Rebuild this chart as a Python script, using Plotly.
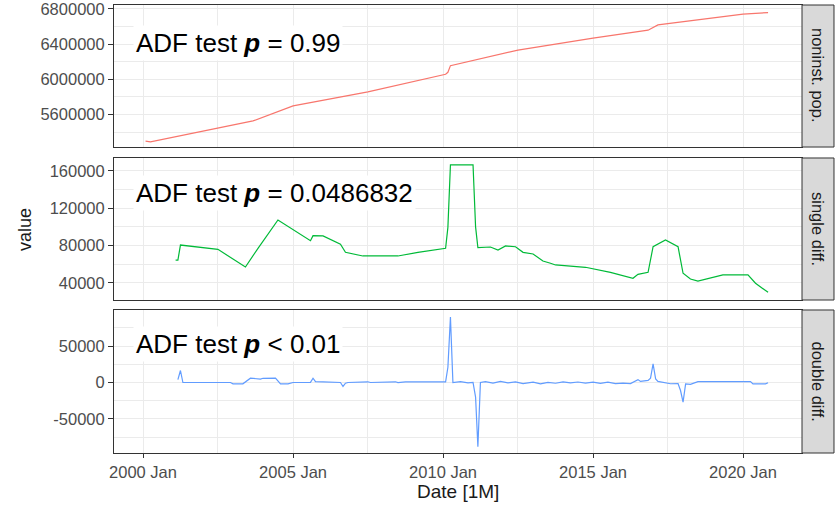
import plotly.graph_objects as go

# Non-institutional population (monthly), read at its breakpoints
pop_dates = ["2000-02", "2000-04", "2003-09", "2005-01", "2007-07", "2010-01", "2010-02",
             "2010-03", "2010-04", "2012-07", "2015-01", "2016-11", "2017-03", "2020-01", "2020-11"]
pop_vals = [5298000, 5290000, 5528000, 5699000, 5858000, 6050000, 6058000,
            6080000, 6156000, 6332000, 6468000, 6559000, 6619000, 6741000, 6759000]

# Single (seasonal) difference
d1_dates = ["2001-02", "2001-03", "2001-04", "2001-09", "2002-07", "2003-06", "2003-11", "2004-07",
            "2005-01", "2005-08", "2005-09", "2006-01", "2006-08", "2006-10", "2007-05", "2008-07",
            "2009-03", "2010-02", "2010-03", "2010-04", "2011-01", "2011-02", "2011-03", "2011-08",
            "2011-11", "2012-02", "2012-06", "2012-09", "2013-01", "2013-05", "2013-08", "2013-10",
            "2014-10", "2015-08", "2016-05", "2016-07", "2016-11", "2017-01", "2017-06", "2017-11",
            "2018-01", "2018-04", "2018-07", "2019-05", "2020-03", "2020-06", "2020-11"]
d1_vals = [64500, 64500, 80600, 78800, 76000, 57100, 77100, 107400,
           96700, 85200, 90600, 90300, 81400, 72800, 68900, 68900,
           72800, 77100, 99500, 166400, 166400, 100000, 77800, 78500,
           75300, 79600, 78800, 72800, 71000, 63500, 61100, 59300,
           56800, 51400, 45000, 49300, 51400, 78800, 86000, 78800,
           50400, 44300, 42100, 48600, 48600, 39700, 30000]

# Double difference
d2_dates = ["2001-03", "2001-04", "2001-05", "2002-12", "2003-01", "2003-05", "2003-08", "2003-12",
            "2004-01", "2004-06", "2004-08", "2004-11", "2005-01", "2005-08", "2005-09", "2005-10",
            "2006-01", "2006-08", "2006-09", "2006-10", "2006-11", "2007-07", "2007-08", "2008-06",
            "2008-07", "2008-10", "2010-02", "2010-03", "2010-04", "2010-05", "2010-08", "2010-11",
            "2011-01", "2011-02", "2011-03", "2011-04", "2011-06", "2011-09", "2011-12", "2012-03",
            "2012-06", "2012-09", "2013-01", "2013-04", "2013-07", "2013-10", "2014-01", "2014-04",
            "2014-07", "2014-10", "2015-01", "2015-04", "2015-07", "2015-10", "2016-01", "2016-04",
            "2016-07", "2016-08", "2016-11", "2016-12", "2017-01", "2017-02", "2017-03", "2017-06",
            "2017-08", "2017-11", "2017-12", "2018-01", "2018-02", "2018-04", "2018-07", "2020-04",
            "2020-05", "2020-10", "2020-11"]
d2_vals = [4000, 16500, 0, 0, -1800, -1800, 5900, 4800,
           5800, 5900, -1800, -1800, 0, 200, 5900, 1200,
           1000, 0, -5400, -1000, 0, 1000, 0, 1000,
           0, 800, 800, 21000, 90000, 0, 1200, -600,
           0, -20000, -88000, 0, 1200, -800, 1500, -500,
           800, -1500, 600, -1800, 300, -1000, 900, -600,
           700, -900, 500, -1200, 400, -1500, -800, -1500,
           4000, 1500, 3000, 6000, 25500, 5000, 1500, 0,
           -1700, -1500, -11000, -27000, -2000, -2500, 1300, 1300,
           -1800, -1800, -400]

panel_labels = ["noninst. pop.", "single diff.", "double diff."]
adf_texts = ["ADF test <b><i>p</i></b> = 0.99",
             "ADF test <b><i>p</i></b> = 0.0486832",
             "ADF test <b><i>p</i></b> &lt; 0.01"]

x_tick_vals = ["2000-01-01", "2005-01-01", "2010-01-01", "2015-01-01", "2020-01-01"]
x_tick_text = ["2000 Jan", "2005 Jan", "2010 Jan", "2015 Jan", "2020 Jan"]
x_minor_vals = ["2002-07-01", "2007-07-01", "2012-07-01", "2017-07-01"]

y_ticks = [[5600000, 6000000, 6400000, 6800000],
           [40000, 80000, 120000, 160000],
           [-50000, 0, 50000]]
y_minor = [[5400000, 5800000, 6200000, 6600000],
           [60000, 100000, 140000],
           [-75000, -25000, 25000, 75000]]
y_ranges = [[5231400, 6845000], [21800, 173700], [-96700, 99500]]

line_colors = ["#F8766D", "#00BA38", "#619CFF"]
series = [(pop_dates, pop_vals), (d1_dates, d1_vals), (d2_dates, d2_vals)]

# Panel geometry (paper fractions, bottom to top of each panel), top panel first
domains = [[0.6830, 1.0], [0.3415, 0.6585], [0.0, 0.3192]]

FONT = "Liberation Sans, Arial, sans-serif"
GRID = "#EBEBEB"
BORDER = "#333333"

fig = go.Figure()
layout = dict(
    width=840, height=505,
    margin=dict(l=114, r=38, t=5, b=52),
    paper_bgcolor="white", plot_bgcolor="white",
    showlegend=False,
    font=dict(family=FONT, size=16.5, color="#4D4D4D"),
)

x_range = ["1999-01-13", "2021-12-19"]
shapes = []
annotations = []

for i in range(3):
    n = "" if i == 0 else str(i + 1)
    dates, vals = series[i]
    fig.add_trace(go.Scatter(
        x=[d + "-01" for d in dates], y=vals, mode="lines",
        line=dict(color=line_colors[i], width=1.2),
        xaxis="x" + n, yaxis="y" + n, hoverinfo="skip",
    ))
    layout["xaxis" + n] = dict(
        domain=[0, 1], anchor="y" + n, type="date", range=x_range,
        tickmode="array", tickvals=x_tick_vals,
        ticktext=x_tick_text, showticklabels=(i == 2),
        ticks="outside" if i == 2 else "", ticklen=4, tickcolor=BORDER,
        showgrid=True, gridcolor=GRID, gridwidth=1.1,
        minor=dict(tickmode="array", tickvals=x_minor_vals, showgrid=True,
                   gridcolor=GRID, gridwidth=0.6, ticks=""),
        showline=True, mirror=True, linecolor=BORDER, linewidth=1,
        zeroline=False, automargin=False,
        tickfont=dict(family=FONT, size=16.5, color="#4D4D4D"),
    )
    if i > 0:
        layout["xaxis" + n]["matches"] = "x"
    layout["yaxis" + n] = dict(
        domain=domains[i], anchor="x" + n, range=y_ranges[i],
        tickmode="array", tickvals=y_ticks[i], ticktext=[str(v) for v in y_ticks[i]],
        ticks="outside", ticklen=5, tickcolor=BORDER,
        showgrid=True, gridcolor=GRID, gridwidth=1.1,
        minor=dict(tickmode="array", tickvals=y_minor[i], showgrid=True,
                   gridcolor=GRID, gridwidth=0.6, ticks=""),
        showline=True, mirror=True, linecolor=BORDER, linewidth=1,
        zeroline=False, automargin=False, ticklabeloverflow="allow",
        tickfont=dict(family=FONT, size=16.5, color="#4D4D4D"),
    )

    # facet strip on the right
    shapes.append(dict(type="rect", xref="paper", yref="paper",
                       x0=1.0, x1=1.0465, y0=domains[i][0], y1=domains[i][1],
                       fillcolor="#D9D9D9", line=dict(color=BORDER, width=1), layer="above"))
    annotations.append(dict(xref="paper", yref="paper", x=1.02325,
                            y=(domains[i][0] + domains[i][1]) / 2,
                            text=panel_labels[i], textangle=90, showarrow=False,
                            font=dict(family=FONT, size=16.5, color="#1A1A1A"),
                            xanchor="center", yanchor="middle"))

    # ADF test label
    y_pos = [0.73, 0.757, 0.762][i]
    annotations.append(dict(xref="x" + n + " domain", yref="y" + n + " domain",
                            x=0.0275, y=y_pos, text=adf_texts[i], showarrow=False,
                            xanchor="left", yanchor="middle",
                            bgcolor="white", borderpad=2,
                            font=dict(family=FONT, size=26, color="black")))

# axis titles
annotations.append(dict(xref="paper", yref="paper", x=0.5, y=-0.087, text="Date [1M]",
                        showarrow=False, xanchor="center", yanchor="middle",
                        font=dict(family=FONT, size=19, color="#1A1A1A")))
annotations.append(dict(xref="paper", yref="paper", x=-0.1294, y=0.5, text="value",
                        textangle=-90, showarrow=False, xanchor="center", yanchor="middle",
                        font=dict(family=FONT, size=18, color="#1A1A1A")))

layout["shapes"] = shapes
layout["annotations"] = annotations
fig.update_layout(**layout)
fig.write_html("out.html")
